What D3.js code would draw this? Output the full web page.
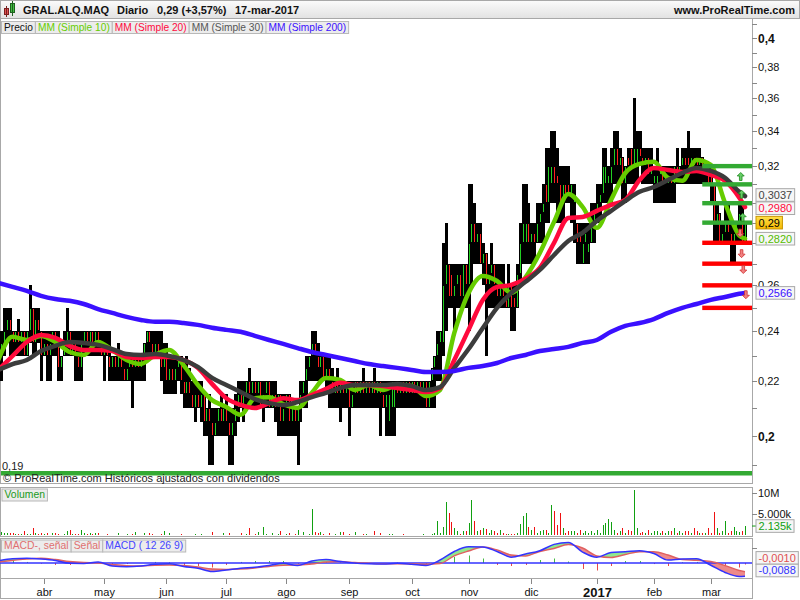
<!DOCTYPE html>
<html><head><meta charset="utf-8">
<script src="https://cdn.jsdelivr.net/npm/d3@7"></script>
<style>body{margin:0;background:#fff}svg{display:block;font-family:"Liberation Sans",Arial,sans-serif}</style>
</head><body><svg id="c" width="800" height="600"></svg>
<script>
// ---------------- DATA ----------------
const headerParts = ["GRAL.ALQ.MAQ", "Diario", "0,29 (+3,57%)", "17-mar-2017"];
const siteText = "www.ProRealTime.com";
const legendItems = ["Precio", "MM (Simple 10)", "MM (Simple 20)", "MM (Simple 30)", "MM (Simple 200)"];
const monthLabels = ["abr","may","jun","jul","ago","sep","oct","nov","dic","2017","feb","mar"];
const monthIdx = [16,37,59,80,101,123,145,165,187,210,230,250];
const priceTicks = [0.19,0.2,0.21,0.22,0.23,0.24,0.25,0.26,0.27,0.28,0.29,0.3,0.31,0.32,0.33,0.34,0.35,0.36,0.37,0.38,0.39,0.4,0.41];
// labels hidden behind the last-value boxes (0,30 and 0,28) are not drawn
const priceTickLabels = {"0.2":"0,2","0.22":"0,22","0.24":"0,24","0.26":"0,26","0.32":"0,32","0.34":"0,34","0.36":"0,36","0.38":"0,38","0.4":"0,4"};

const openP = [.235,.23,.235,.24,.245,.24,.235,.24,.235,.24, .23,.24,.25,.235,.245,.24,.23,.235,.23,.235, .24,.235,.225,.23,.235,.24,.23,.235,.23,.225,
 .235,.24,.235,.24,.235,.24,.235,.23,.235,.23, .225,.23,.225,.23,.225,.22,.225,.23,.225,.23, .225,.23,.235,.24,.235,.23,.235,.23,.225,.23,
 .22,.225,.22,.225,.23,.22,.215,.22,.215,.21, .215,.21,.215,.205,.21,.205,.20,.205,.21,.205, .21,.205,.20,.205,.21,.215,.21,.215,.22,.215,
 .22,.215,.22,.21,.215,.22,.21,.215,.21,.215, .205,.21,.215,.205,.21,.205,.21,.215,.22,.225, .23,.235,.23,.225,.23,.22,.225,.22,.215,.22,
 .215,.22,.215,.22,.21,.215,.22,.215,.22,.215, .22,.215,.22,.215,.22,.215,.21,.205,.21,.21, .22,.215,.22,.215,.22,.215,.22,.215,.22,.215,
 .22,.21,.22,.225,.23,.235,.235,.26,.27,.265, .255,.26,.265,.255,.27,.26,.28,.29,.28,.285, .27,.275,.26,.265,.27,.26,.255,.26,.255,.25,
 .26,.255,.25,.265,.28,.28,.29,.28,.285,.28, .29,.295,.31,.30,.31,.32,.315,.31,.30,.31, .31,.305,.30,.29,.285,.27,.28,.275,.28,.29,
 .295,.30,.305,.31,.31,.31,.32,.33,.32,.325, .31,.325,.33,.32,.32,.33,.325,.32,.325,.315, .31,.31,.315,.32,.31,.31,.315,.31,.32,.315,
 .32,.325,.325,.32,.325,.325,.32,.325,.315,.32, .315,.31,.29,.295,.28,.285,.29,.285,.28,.285, .29,.29,.28];
const highP = [.24,.24,.25,.25,.25,.24,.24,.245,.24,.24, .24,.26,.25,.25,.25,.24,.24,.24,.24,.24, .24,.24,.23,.24,.25,.24,.24,.24,.24,.24,
 .24,.24,.24,.24,.24,.24,.24,.24,.24,.24, .23,.23,.235,.23,.23,.23,.23,.23,.23,.23, .23,.235,.24,.24,.24,.24,.24,.24,.235,.235,
 .23,.23,.23,.23,.23,.225,.23,.225,.22,.22, .22,.22,.215,.21,.215,.21,.21,.21,.215,.21, .215,.21,.21,.215,.22,.22,.22,.22,.225,.22,
 .22,.22,.22,.22,.22,.22,.22,.22,.215,.215, .215,.215,.215,.21,.21,.21,.22,.22,.23,.23, .24,.24,.235,.23,.23,.23,.23,.225,.22,.225,
 .22,.22,.22,.22,.22,.22,.22,.22,.225,.22, .22,.22,.225,.22,.22,.22,.22,.22,.22,.22, .22,.22,.22,.22,.22,.22,.22,.22,.22,.22,
 .22,.22,.225,.23,.24,.24,.28,.29,.27,.27, .27,.27,.27,.27,.27,.31,.31,.30,.29,.29, .28,.275,.27,.28,.27,.27,.27,.27,.26,.27,
 .26,.26,.27,.29,.31,.31,.30,.29,.29,.30, .30,.31,.33,.33,.34,.34,.33,.32,.32,.32, .32,.31,.31,.29,.29,.29,.29,.29,.30,.30,
 .31,.31,.33,.33,.32,.33,.34,.34,.33,.325, .32,.33,.33,.36,.34,.34,.33,.33,.33,.33, .32,.33,.32,.32,.32,.32,.32,.32,.33,.32,
 .33,.33,.34,.33,.33,.33,.33,.325,.32,.32, .32,.31,.30,.295,.29,.30,.30,.29,.29,.29, .30,.30,.29];
const lowP = [.23,.22,.23,.235,.23,.23,.23,.23,.23,.23, .23,.235,.23,.23,.235,.22,.23,.22,.22,.23, .23,.22,.22,.23,.23,.23,.23,.22,.22,.22,
 .23,.23,.23,.23,.23,.23,.23,.22,.23,.22, .22,.22,.22,.22,.22,.22,.22,.21,.22,.22, .22,.22,.23,.23,.23,.23,.23,.22,.215,.215,
 .215,.215,.215,.22,.215,.21,.21,.21,.21,.205, .21,.205,.20,.20,.19,.19,.20,.20,.20,.20, .20,.19,.19,.20,.205,.21,.205,.21,.21,.21,
 .21,.21,.21,.205,.21,.21,.21,.205,.20,.20, .20,.20,.20,.20,.20,.19,.205,.21,.21,.22, .22,.22,.22,.22,.22,.215,.21,.21,.21,.21,
 .205,.21,.21,.20,.21,.21,.21,.21,.21,.21, .21,.21,.21,.21,.20,.21,.20,.20,.20,.20, .21,.21,.21,.21,.21,.21,.21,.21,.21,.21,
 .21,.21,.21,.21,.22,.22,.23,.24,.25,.25, .24,.25,.25,.25,.25,.24,.26,.27,.27,.27, .26,.23,.25,.25,.25,.25,.25,.25,.25,.25,
 .24,.24,.25,.26,.27,.27,.27,.27,.27,.28, .28,.28,.29,.29,.30,.30,.29,.29,.29,.30, .30,.29,.28,.27,.27,.27,.27,.27,.28,.28,
 .29,.29,.30,.30,.30,.30,.31,.31,.31,.30, .30,.31,.31,.31,.31,.32,.31,.31,.31,.31, .30,.30,.30,.30,.30,.30,.30,.30,.31,.31,
 .31,.31,.31,.31,.31,.31,.31,.31,.31,.31, .30,.28,.28,.28,.28,.28,.28,.27,.27,.28, .28,.28,.28];
const closeP = [.23,.235,.24,.245,.24,.235,.24,.235,.24,.23, .24,.25,.235,.245,.24,.23,.235,.23,.235,.24, .235,.225,.23,.235,.24,.23,.235,.23,.225,.235,
 .24,.235,.24,.235,.24,.235,.23,.235,.23,.225, .23,.225,.23,.225,.22,.225,.23,.225,.23,.225, .23,.235,.24,.235,.23,.235,.23,.225,.23,.22,
 .225,.22,.225,.23,.22,.215,.22,.215,.21,.215, .21,.215,.205,.21,.205,.20,.205,.21,.205,.21, .205,.20,.205,.21,.215,.21,.215,.22,.215,.22,
 .215,.22,.21,.215,.22,.21,.215,.21,.215,.205, .21,.215,.205,.21,.205,.21,.215,.22,.225,.23, .235,.23,.225,.23,.22,.225,.22,.215,.22,.215,
 .22,.215,.22,.21,.215,.22,.215,.22,.215,.22, .215,.22,.215,.22,.215,.21,.215,.215,.22,.22, .215,.22,.215,.22,.215,.22,.215,.22,.215,.22,
 .21,.22,.225,.23,.235,.24,.26,.27,.255,.255, .26,.265,.255,.27,.26,.28,.29,.28,.285,.27, .275,.26,.265,.27,.26,.255,.26,.255,.25,.26,
 .25,.25,.265,.28,.29,.29,.28,.285,.28,.29, .295,.30,.30,.32,.32,.31,.31,.30,.31,.305, .305,.31,.305,.28,.28,.28,.285,.28,.29,.295,
 .30,.305,.32,.32,.315,.32,.33,.32,.325,.31, .32,.32,.32,.33,.33,.325,.32,.325,.315,.32, .315,.315,.32,.31,.315,.315,.31,.32,.315,.32,
 .325,.32,.32,.325,.32,.32,.325,.315,.32,.31, .31,.29,.295,.28,.285,.29,.285,.28,.285,.29, .295,.28,.29];
const volumeM = [0.3,0.8,0.5,0.5,0.4,0.5,0.2,0.3,0.2,1.0, 0.2,0.3,1.6,0.5,0.2,0.5,0.2,0.5,0.1,0.5, 0.4,0.2,0.1,0.2,1.0,1.3,0.2,0.3,0.2,1.1,
 0.4,0.3,0.4,0.3,0.4,0.4,0.1,0.1,0.2,0.1, 0.1,0.1,0.4,0.1,0.1,0.2,0.1,0.2,0.6,0.1, 0.1,0.4,0.1,0.4,0.2,0.1,0.1,0.2,1.0,0.1,
 0.4,0.1,0.1,0.1,0.3,0.1,0.1,0.1,0.1,0.3, 0.1,0.3,0.1,0.1,0.1,0.8,0.1,0.1,0.1,0.4, 0.1,0.4,0.1,0.1,0.1,0.5,0.1,0.2,1.7,0.1,
 0.2,0.6,0.1,1.9,0.3,0.1,0.4,0.1,0.2,0.9, 0.1,0.2,0.4,0.1,0.2,1.3,0.1,0.6,0.1,0.3, 6.2,0.8,0.5,0.7,0.2,0.1,0.5,0.1,0.2,0.1,
 0.8,0.7,0.1,0.2,0.1,0.6,0.1,0.1,0.2,0.3, 0.1,0.1,0.9,0.1,0.4,0.1,0.1,0.2,0.3,0.1, 0.1,0.1,0.3,0.1,0.1,0.1,0.1,0.1,0.1,0.3,
 0.1,0.1,0.2,0.4,3.3,0.5,2.0,7.9,5.2,3.1, 1.7,0.9,0.3,0.9,0.9,2.9,8.3,3.3,0.9,1.2, 1.6,1.4,0.5,1.3,0.9,0.4,1.1,0.5,0.2,0.3,
 0.2,0.3,0.5,2.6,4.6,5.3,1.9,1.1,1.9,0.4, 0.9,1.1,1.3,0.5,7.2,5.7,2.3,5.2,1.6,0.4, 1.0,0.9,0.9,0.4,1.3,0.4,0.9,0.4,0.9,0.4,
 1.3,0.5,2.3,2.8,3.8,3.0,1.3,0.4,0.9,1.6, 0.4,1.2,0.9,10.8,1.7,0.4,0.7,0.4,1.3,0.4, 0.9,0.9,0.4,1.0,0.4,0.9,0.9,1.6,0.4,1.0,
 0.4,0.9,0.9,0.4,1.6,0.9,0.4,0.4,0.4,1.6, 0.4,5.4,1.6,0.4,0.9,3.3,0.4,0.9,1.8,0.9, 0.6,1.0,2.135];

const maIdx = [0,5,10,15,20,25,30,35,40,45,50,55,60,65,70,75,80,85,90,95,100,105,110,115,120,125,130,135,140,145,150,155,160,165,170,175,180,185,190,195,200,205,210,215,220,225,230,235,240,245,250,255,260,262];
const ma10 = [0.2283,0.2377,0.2364,0.2381,0.2356,0.2315,0.2303,0.2356,0.2323,0.2283,
 0.2267,0.2303,0.2323,0.2263,0.2186,0.2129,0.2104,0.2075,0.2136,0.2140,
 0.2114,0.2100,0.2156,0.2213,0.2205,0.2167,0.2186,0.2167,0.2186,0.2182,
 0.2144,0.2167,0.2393,0.2566,0.2643,0.2620,0.2566,0.2637,0.2751,0.2904,
 0.3049,0.2981,0.2874,0.3017,0.3162,0.3213,0.3224,0.3135,0.3119,0.3235,
 0.3207,0.3001,0.2836,0.2820];
const ma20 = [0.2244,0.2299,0.2356,0.2385,0.2373,0.2340,0.2323,0.2323,0.2319,0.2295,
 0.2291,0.2295,0.2295,0.2283,0.2252,0.2190,0.2136,0.2111,0.2100,0.2118,
 0.2136,0.2129,0.2148,0.2171,0.2194,0.2186,0.2186,0.2182,0.2174,0.2167,
 0.2159,0.2174,0.2283,0.2406,0.2535,0.2593,0.2602,0.2630,0.2680,0.2800,
 0.2924,0.2929,0.2960,0.2991,0.3017,0.3124,0.3190,0.3179,0.3168,0.3173,
 0.3151,0.3119,0.3028,0.2980];
const ma30 = [0.2244,0.2267,0.2283,0.2319,0.2340,0.2356,0.2352,0.2344,0.2327,0.2307,
 0.2303,0.2307,0.2299,0.2283,0.2256,0.2213,0.2186,0.2159,0.2133,0.2118,
 0.2111,0.2122,0.2140,0.2156,0.2174,0.2186,0.2186,0.2186,0.2190,0.2182,
 0.2167,0.2178,0.2252,0.2327,0.2414,0.2500,0.2566,0.2616,0.2671,0.2741,
 0.2809,0.2849,0.2909,0.2960,0.3012,0.3060,0.3086,0.3124,0.3162,0.3190,
 0.3173,0.3135,0.3060,0.3037];
const ma200 = [0.2611,0.2593,0.2575,0.2553,0.2539,0.2531,0.2517,0.2495,0.2478,0.2461,
 0.2448,0.2440,0.2440,0.2435,0.2427,0.2415,0.2406,0.2398,0.2381,0.2364,
 0.2348,0.2331,0.2315,0.2303,0.2291,0.2279,0.2267,0.2259,0.2252,0.2244,
 0.2236,0.2236,0.2240,0.2252,0.2259,0.2271,0.2291,0.2303,0.2319,0.2327,
 0.2336,0.2352,0.2364,0.2398,0.2423,0.2435,0.2452,0.2478,0.2500,0.2517,
 0.2535,0.2548,0.2562,0.2566];
const macdLine = [0.0015,0.0028,0.0032,0.0027,0.0017,-0.0002,-0.0003,0.0007,-0.0020,-0.0025,
 -0.0020,-0.0008,-0.0005,-0.0023,-0.0035,-0.0057,-0.0047,-0.0035,-0.0029,-0.0017,
 -0.0002,-0.0017,0.0013,0.0023,0.0010,0.0000,-0.0005,-0.0007,-0.0002,-0.0008,
 -0.0017,0.0020,0.0077,0.0108,0.0107,0.0077,0.0039,0.0060,0.0082,0.0124,
 0.0137,0.0073,0.0038,0.0070,0.0075,0.0082,0.0063,0.0020,0.0027,0.0028,
 -0.0015,-0.0063,-0.0090,-0.0088];
const signalLine = [0.0007,0.0017,0.0027,0.0032,0.0023,0.0010,0.0003,0.0000,-0.0010,-0.0018,
 -0.0020,-0.0015,-0.0013,-0.0017,-0.0027,-0.0040,-0.0043,-0.0040,-0.0033,-0.0023,
 -0.0015,-0.0013,-0.0007,0.0007,0.0010,0.0003,-0.0002,-0.0005,-0.0005,-0.0005,
 -0.0008,-0.0003,0.0047,0.0080,0.0107,0.0087,0.0053,0.0047,0.0077,0.0097,
 0.0123,0.0100,0.0047,0.0037,0.0057,0.0075,0.0075,0.0053,0.0023,0.0018,
 0.0010,-0.0017,-0.0050,-0.0058];
const macdHist = [0.0013,0.0013,0.0007,-0.0005,-0.0013,-0.0013,-0.0005,0.0007,-0.0013,-0.0007,
 0,0.0007,0.0005,-0.0013,-0.002,-0.003,-0.0013,0.0007,0.0013,0.0013,
 0.0013,-0.0005,0.0013,0.002,0.0005,-0.0005,-0.0005,0,0.0003,-0.0005,
 -0.0007,0.0013,0.004,0.005,0.003,-0.0013,-0.002,-0.0013,0.002,0.003,
 0.001,-0.004,-0.005,-0.002,0.0013,0.0013,-0.0007,-0.002,0.0005,0.0007,
 -0.002,-0.003,-0.003,-0.001];

const levelsUp = [0.32, 0.31, 0.30, 0.29];
const levelsDown = [0.28, 0.27, 0.26, 0.25];
const levelStartIdx = 247;
const arrowsUp = [0.314, 0.3045, 0.2925];
const arrowsUpIdx = [260.5, 260.8, 261.2];
const arrowsDown = [0.285, 0.275, 0.2675, 0.256];
const arrowsDownIdx = [260.3, 260.8, 261.4, 262.3];

const lastValues = [
  {v:0.3037, t:"0,3037", c:"#444444"},
  {v:0.2980, t:"0,2980", c:"#ff0a3c"},
  {v:0.29,   t:"0,29",   c:"#000000", hi:true},
  {v:0.2820, t:"0,2820", c:"#55bb00"},
  {v:0.2566, t:"0,2566", c:"#3a10ff"}
];
const volTicks = [10, 5];
const volTickLabels = ["10M", "5.000k"];
const volLast = 2.135, volLastText = "2.135k";
const macdTick = [0.01];
const macdLastVals = [{v:-0.0010, t:"-0,0010", c:"#e05050"}, {v:-0.0088, t:"-0,0088", c:"#3333ff"}];

// ---------------- LAYOUT ----------------
const svg = d3.select('#c');
const AX = 752;
const x = d3.scaleLinear().domain([0, 262]).range([-1.7, 745]);
const y = d3.scaleLog().domain([0.2, 0.4]).range([436, 38]);
const vy = d3.scaleLinear().domain([0, 10]).range([535, 493]);
const my = d3.scaleLinear().domain([-0.01, 0.01]).range([578, 548]);

const defs = svg.append('defs');
const hg = defs.append('linearGradient').attr('id','hdr').attr('x1',0).attr('y1',0).attr('x2',0).attr('y2',1);
hg.append('stop').attr('offset','0').attr('stop-color','#fbfbfb');
hg.append('stop').attr('offset','1').attr('stop-color','#e2e2e2');
const yg = defs.append('linearGradient').attr('id','yel').attr('x1',0).attr('y1',0).attr('x2',0).attr('y2',1);
yg.append('stop').attr('offset','0').attr('stop-color','#ffe04a');
yg.append('stop').attr('offset','1').attr('stop-color','#f5b800');
defs.append('clipPath').attr('id','clipMain').append('rect').attr('x',0).attr('y',19).attr('width',AX).attr('height',451);
defs.append('clipPath').attr('id','clipMacd').append('rect').attr('x',0).attr('y',538).attr('width',AX).attr('height',40);

// header
svg.append('rect').attr('x',0.5).attr('y',0.5).attr('width',799).attr('height',18).attr('fill','url(#hdr)').attr('stroke','#a8a8a8');
svg.append('rect').attr('x',4.5).attr('y',8.5).attr('width',4).attr('height',6).attr('fill','#e05050').attr('stroke','#7a2020');
svg.append('line').attr('x1',6.5).attr('x2',6.5).attr('y1',6).attr('y2',17).attr('stroke','#7a2020');
svg.append('rect').attr('x',10.5).attr('y',3.5).attr('width',4).attr('height',9).attr('fill','#40c040').attr('stroke','#206020');
svg.append('line').attr('x1',12.5).attr('x2',12.5).attr('y1',1).attr('y2',16).attr('stroke','#206020');
const hx = [23, 117, 157, 235];
headerParts.forEach((t,i)=> svg.append('text').attr('x',hx[i]).attr('y',14).text(t)
  .style('font-size','11px').style('font-weight','bold').attr('fill','#111'));
svg.append('text').attr('x',795).attr('y',14).attr('text-anchor','end').text(siteText)
  .style('font-size','11px').style('font-weight','bold').attr('fill','#111');

// panel frames
function frame(y0, y1){
  svg.append('rect').attr('x',0.5).attr('y',y0+0.5).attr('width',AX).attr('height',y1-y0).attr('fill','none').attr('stroke','#a8a8a8');
}
frame(18, 483);
frame(487, 536);
frame(538, 578);
frame(578, 598);

// ---- main panel: candles ----
const cg = svg.append('g').attr('clip-path','url(#clipMain)').attr('shape-rendering','crispEdges');
closeP.forEach((c,i)=>{
  const o=openP[i], h=highP[i], l=lowP[i];
  const cx = Math.round(x(i));
  const yt = Math.round(y(h)), yb = Math.round(y(l));
  cg.append('rect').attr('x',cx-1).attr('y',yt).attr('width',3).attr('height',Math.max(2,yb-yt)).attr('fill','#000');
  let t = Math.round(y(Math.max(o,c))), b = Math.round(y(Math.min(o,c)));
  if (b - t > 3) { t += 1; b -= 1; }
  if (b - t < 1) { b = t + 1; }
  cg.append('rect').attr('x',cx).attr('y',t).attr('width',1).attr('height',b-t)
    .attr('fill', c >= o ? '#22d022' : '#ff2020');
});

// moving averages
const maSeries = [
  {d:ma10, c:'#66cc00'},
  {d:ma20, c:'#ff0a3c'},
  {d:ma30, c:'#3c3c3c'},
  {d:ma200, c:'#3a10ff'}
];
const maLine = d3.line().x(d=>x(d[0])).y(d=>y(d[1])).curve(d3.curveMonotoneX);
const mg = svg.append('g').attr('clip-path','url(#clipMain)');
maSeries.forEach(s=>{
  mg.append('path').attr('d', maLine(maIdx.map((k,j)=>[k, s.d[j]])))
    .attr('fill','none').attr('stroke',s.c).attr('stroke-width',4.5)
    .attr('stroke-linejoin','round').attr('stroke-linecap','round');
});

// level bars
levelsUp.forEach(v=> svg.append('rect').attr('x',x(levelStartIdx)).attr('y',y(v)-2.2).attr('width',AX-x(levelStartIdx)).attr('height',4.4).attr('fill','#33aa33'));
levelsDown.forEach(v=> svg.append('rect').attr('x',x(levelStartIdx)).attr('y',y(v)-2.2).attr('width',AX-x(levelStartIdx)).attr('height',4.4).attr('fill','#ff0000'));
function arrow(cx, cy, up, fill, stroke){
  const s = up ? -1 : 1;
  const p = [[cx, cy + s*4.5],[cx+3.5, cy + s*1],[cx+1.3, cy+s*1],[cx+1.3, cy - s*3.5],[cx-1.3, cy - s*3.5],[cx-1.3, cy+s*1],[cx-3.5, cy+s*1]];
  svg.append('path').attr('d','M'+p.map(q=>q.join(',')).join('L')+'Z').attr('fill',fill).attr('stroke',stroke).attr('stroke-width',0.8);
}
arrowsUp.forEach((v,i)=> arrow(x(arrowsUpIdx[i]), y(v), true, '#66cc66', '#1d8a1d'));
arrowsDown.forEach((v,i)=> arrow(x(arrowsDownIdx[i]), y(v), false, '#f08080', '#d03030'));

// bottom green line & notes
svg.append('rect').attr('x',1).attr('y',471).attr('width',AX-1).attr('height',4.5).attr('fill','#33aa33');
svg.append('text').attr('x',2).attr('y',470).text('0,19').style('font-size','11px').attr('fill','#222');
svg.append('text').attr('x',3).attr('y',482).text('© ProRealTime.com  Históricos ajustados con dividendos').style('font-size','11px').attr('fill','#222');

// legend boxes
const legendColors = ['#111111','#66cc00','#ff0a3c','#555555','#3a10ff'];
let lx = 1.5;
legendItems.forEach((t,i)=>{
  const tx = svg.append('text').attr('x',lx+2.5).attr('y',31).text(t).style('font-size','10.2px').attr('fill',legendColors[i]);
  const w = tx.node().getComputedTextLength();
  svg.insert('rect', ()=>tx.node()).attr('x',lx).attr('y',21.5).attr('width',w+5).attr('height',12).attr('fill','#ececec').attr('stroke','#b8b8b8');
  lx += w + 5;
});

// right price axis
svg.append('line').attr('x1',AX+0.5).attr('x2',AX+0.5).attr('y1',19).attr('y2',483).attr('stroke','#a8a8a8');
priceTicks.forEach(v=>{
  const yy = Math.round(y(v))+0.5;
  svg.append('line').attr('x1',AX).attr('x2',AX+5).attr('y1',yy).attr('y2',yy).attr('stroke','#888');
  const lab = priceTickLabels[String(v)];
  if (lab) svg.append('text').attr('x',AX+6).attr('y',yy).attr('dy','0.35em').text(lab)
     .style('font-size', (lab.length===3 ? '12px' : '11px')).style('font-weight', lab.length===3 ? 'bold':'normal').attr('fill','#111');
});
function valueBox(yc, t, c, hi, xl){
  const tx = svg.append('text').attr('x',xl+2.5).attr('y',yc).attr('dy','0.36em').text(t).style('font-size','11px').attr('fill',c);
  const w = tx.node().getComputedTextLength();
  svg.insert('rect', ()=>tx.node()).attr('x',xl).attr('y',yc-6.3).attr('width',w+5).attr('height',12.6)
    .attr('fill', hi ? 'url(#yel)' : '#f6f6f6').attr('stroke', hi ? '#c89600' : '#a8a8a8');
}
const placed = lastValues.map(d=>({...d, yc:y(d.v)})).sort((a,b)=>a.yc-b.yc);
for (let it=0; it<20; it++){
  for (let k=1;k<placed.length;k++){
    const gap = placed[k].yc - placed[k-1].yc;
    if (gap < 13.2){ const dd=(13.2-gap)/2; placed[k].yc+=dd; placed[k-1].yc-=dd; }
  }
}
placed.forEach(d=> valueBox(d.yc, d.t, d.c, d.hi, 756));

// ---- volume panel ----
const vg = svg.append('g').attr('shape-rendering','crispEdges');
volumeM.forEach((v,i)=>{
  const cx = Math.round(x(i));
  const top = vy(v);
  vg.append('rect').attr('x',cx).attr('y',top).attr('width',1).attr('height',Math.max(0.5,535-top))
    .attr('fill', closeP[i] >= openP[i] ? '#11a011' : '#ee1111');
});
svg.append('line').attr('x1',AX+0.5).attr('x2',AX+0.5).attr('y1',487).attr('y2',536).attr('stroke','#a8a8a8');
volTicks.forEach((v,i)=>{
  const yy = Math.round(vy(v))+0.5;
  svg.append('line').attr('x1',AX).attr('x2',AX+5).attr('y1',yy).attr('y2',yy).attr('stroke','#888');
  svg.append('text').attr('x',AX+6).attr('y',yy).attr('dy','0.35em').text(volTickLabels[i]).style('font-size','11px').attr('fill','#111');
});
svg.append('line').attr('x1',AX).attr('x2',AX+5).attr('y1',vy(volLast)).attr('y2',vy(volLast)).attr('stroke','#11a011');
valueBox(vy(volLast), volLastText, '#11a011', false, 756);
{
  const tx = svg.append('text').attr('x',4.5).attr('y',498).text('Volumen').style('font-size','10.4px').attr('fill','#1a9a1a');
  const w = tx.node().getComputedTextLength();
  svg.insert('rect', ()=>tx.node()).attr('x',2).attr('y',489).attr('width',w+5).attr('height',12).attr('fill','#ececec').attr('stroke','#b8b8b8');
}

// ---- MACD panel ----
const md = maIdx.map((k,j)=>({i:k, m:macdLine[j], s:signalLine[j], h:macdHist[j]}));
const gM = svg.append('g').attr('clip-path','url(#clipMacd)');
md.forEach(d=>{
  const cx = Math.round(x(d.i))+0.5;
  gM.append('line').attr('x1',cx).attr('x2',cx).attr('y1',my(0)).attr('y2',my(d.h))
    .attr('stroke', d.h>=0 ? '#44bb44' : '#e84848').attr('stroke-width',1);
});
const cm = d3.curveMonotoneX;
const areaAbove = d3.area().x(d=>x(d.i)).y0(538).y1(d=>my(d.s)).curve(cm);
const areaBelow = d3.area().x(d=>x(d.i)).y0(578).y1(d=>my(d.s)).curve(cm);
defs.append('clipPath').attr('id','abv').append('path').attr('d',areaAbove(md));
defs.append('clipPath').attr('id','blw').append('path').attr('d',areaBelow(md));
const between = d3.area().x(d=>x(d.i)).y0(d=>my(d.m)).y1(d=>my(d.s)).curve(cm);
gM.append('path').attr('d',between(md)).attr('fill','#8fe88f').attr('clip-path','url(#abv)');
gM.append('path').attr('d',between(md)).attr('fill','#ee8a8a').attr('clip-path','url(#blw)');
gM.append('line').attr('x1',0).attr('x2',AX).attr('y1',my(0)).attr('y2',my(0)).attr('stroke','#3333ff').attr('stroke-width',1.3);
gM.append('path').attr('d',d3.line().x(d=>x(d.i)).y(d=>my(d.s)).curve(cm)(md)).attr('fill','none').attr('stroke','#e06060').attr('stroke-width',1.4);
gM.append('path').attr('d',d3.line().x(d=>x(d.i)).y(d=>my(d.m)).curve(cm)(md)).attr('fill','none').attr('stroke','#3333ff').attr('stroke-width',1.5);
svg.append('line').attr('x1',AX+0.5).attr('x2',AX+0.5).attr('y1',538).attr('y2',578).attr('stroke','#a8a8a8');
macdTick.forEach(v=>{
  const yy = Math.round(my(v))+0.5;
  svg.append('line').attr('x1',AX).attr('x2',AX+5).attr('y1',yy).attr('y2',yy).attr('stroke','#888');
});
{
  const items = [["MACD-, señal","#e07070"],["Señal","#e07070"],["MACD ( 12 26 9)","#4444ff"]];
  let bx = 1.5;
  items.forEach(([t,c])=>{
    const tx = svg.append('text').attr('x',bx+2.5).attr('y',549).text(t).style('font-size','10.4px').attr('fill',c);
    const w = tx.node().getComputedTextLength();
    svg.insert('rect', ()=>tx.node()).attr('x',bx).attr('y',540).attr('width',w+5).attr('height',12).attr('fill','#ececec').attr('stroke','#b8b8b8');
    bx += w + 5;
  });
}
{
  let yb = Math.min(my(macdLastVals[1].v), 578-7.5);
  let yr = Math.min(my(macdLastVals[0].v), yb - 12.6);
  valueBox(yr, macdLastVals[0].t, macdLastVals[0].c, false, 756);
  valueBox(yb, macdLastVals[1].t, macdLastVals[1].c, false, 756);
}

// ---- x axis ----
monthIdx.forEach((k,i)=>{
  const xx = Math.round(x(k))+0.5;
  svg.append('line').attr('x1',xx).attr('x2',xx).attr('y1',579).attr('y2',584).attr('stroke','#888');
  const bold = monthLabels[i]==='2017';
  svg.append('text').attr('x',xx).attr('y',592).attr('dy','0.35em').attr('text-anchor','middle').text(monthLabels[i])
    .style('font-size', bold ? '13px' : '11px').style('font-weight', bold ? 'bold' : 'normal').attr('fill','#111');
});
</script></body></html>
